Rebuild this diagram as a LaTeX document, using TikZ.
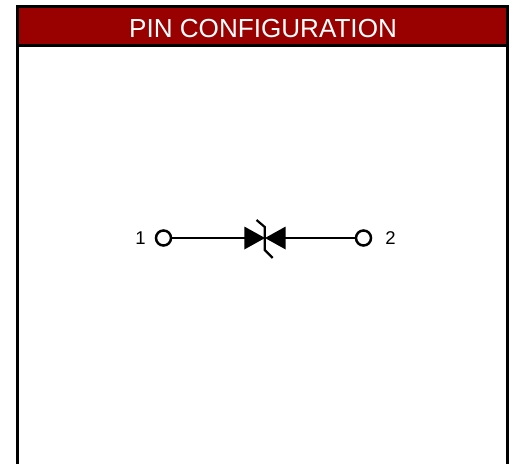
\documentclass[tikz,border=0pt]{standalone}
\usepackage{fontspec}
\setmainfont{Liberation Sans}
\definecolor{hdr}{HTML}{990000}
\tikzset{
  framebox/.style={draw=black,line width=3pt},
  pinring/.style={circle,draw=black,line width=2.5pt,fill=white,minimum size=15pt,inner sep=0pt},
  wire/.style={draw=black,line width=2.3pt},
  pinlabel/.style={font=\fontsize{18.5pt}{18pt}\selectfont,text=black,inner sep=0pt},
  titletext/.style={font=\fontsize{26.1pt}{26pt}\selectfont,text=white,inner sep=0pt}
}
\begin{document}
\begin{tikzpicture}[x=1pt,y=-1pt]
\useasboundingbox (0,0) rectangle (515,464);
\fill[white] (0,0) rectangle (515,464);
\fill[hdr] (17.5,6.5) rectangle (507.5,45.5);
\draw[framebox] (17.5,464) -- (17.5,6.5) -- (507.5,6.5) -- (507.5,464);
\draw[framebox] (17.5,45.5) -- (507.5,45.5);
\node[titletext] (title) at (263,29) {PIN CONFIGURATION};
\node[pinring] (p1) at (163.5,238) {};
\node[pinring] (p2) at (363.5,238) {};
\coordinate (dl) at (245,238);
\coordinate (dr) at (285,238);
\draw[wire] (p1) -- (dl);
\draw[wire] (p2) -- (dr);
\fill[black] (244.3,226.5) -- (265,238) -- (244.3,249.5) -- cycle;
\fill[black] (285.7,226.5) -- (265,238) -- (285.7,249.5) -- cycle;
\draw[black,line width=2.2pt] (256.5,220) -- (264.8,227) -- (264.8,250) -- (272.7,258);
\node[pinlabel] (l1) at (140.5,238) {1};
\node[pinlabel] (l2) at (390.5,238) {2};
\end{tikzpicture}
\end{document}
